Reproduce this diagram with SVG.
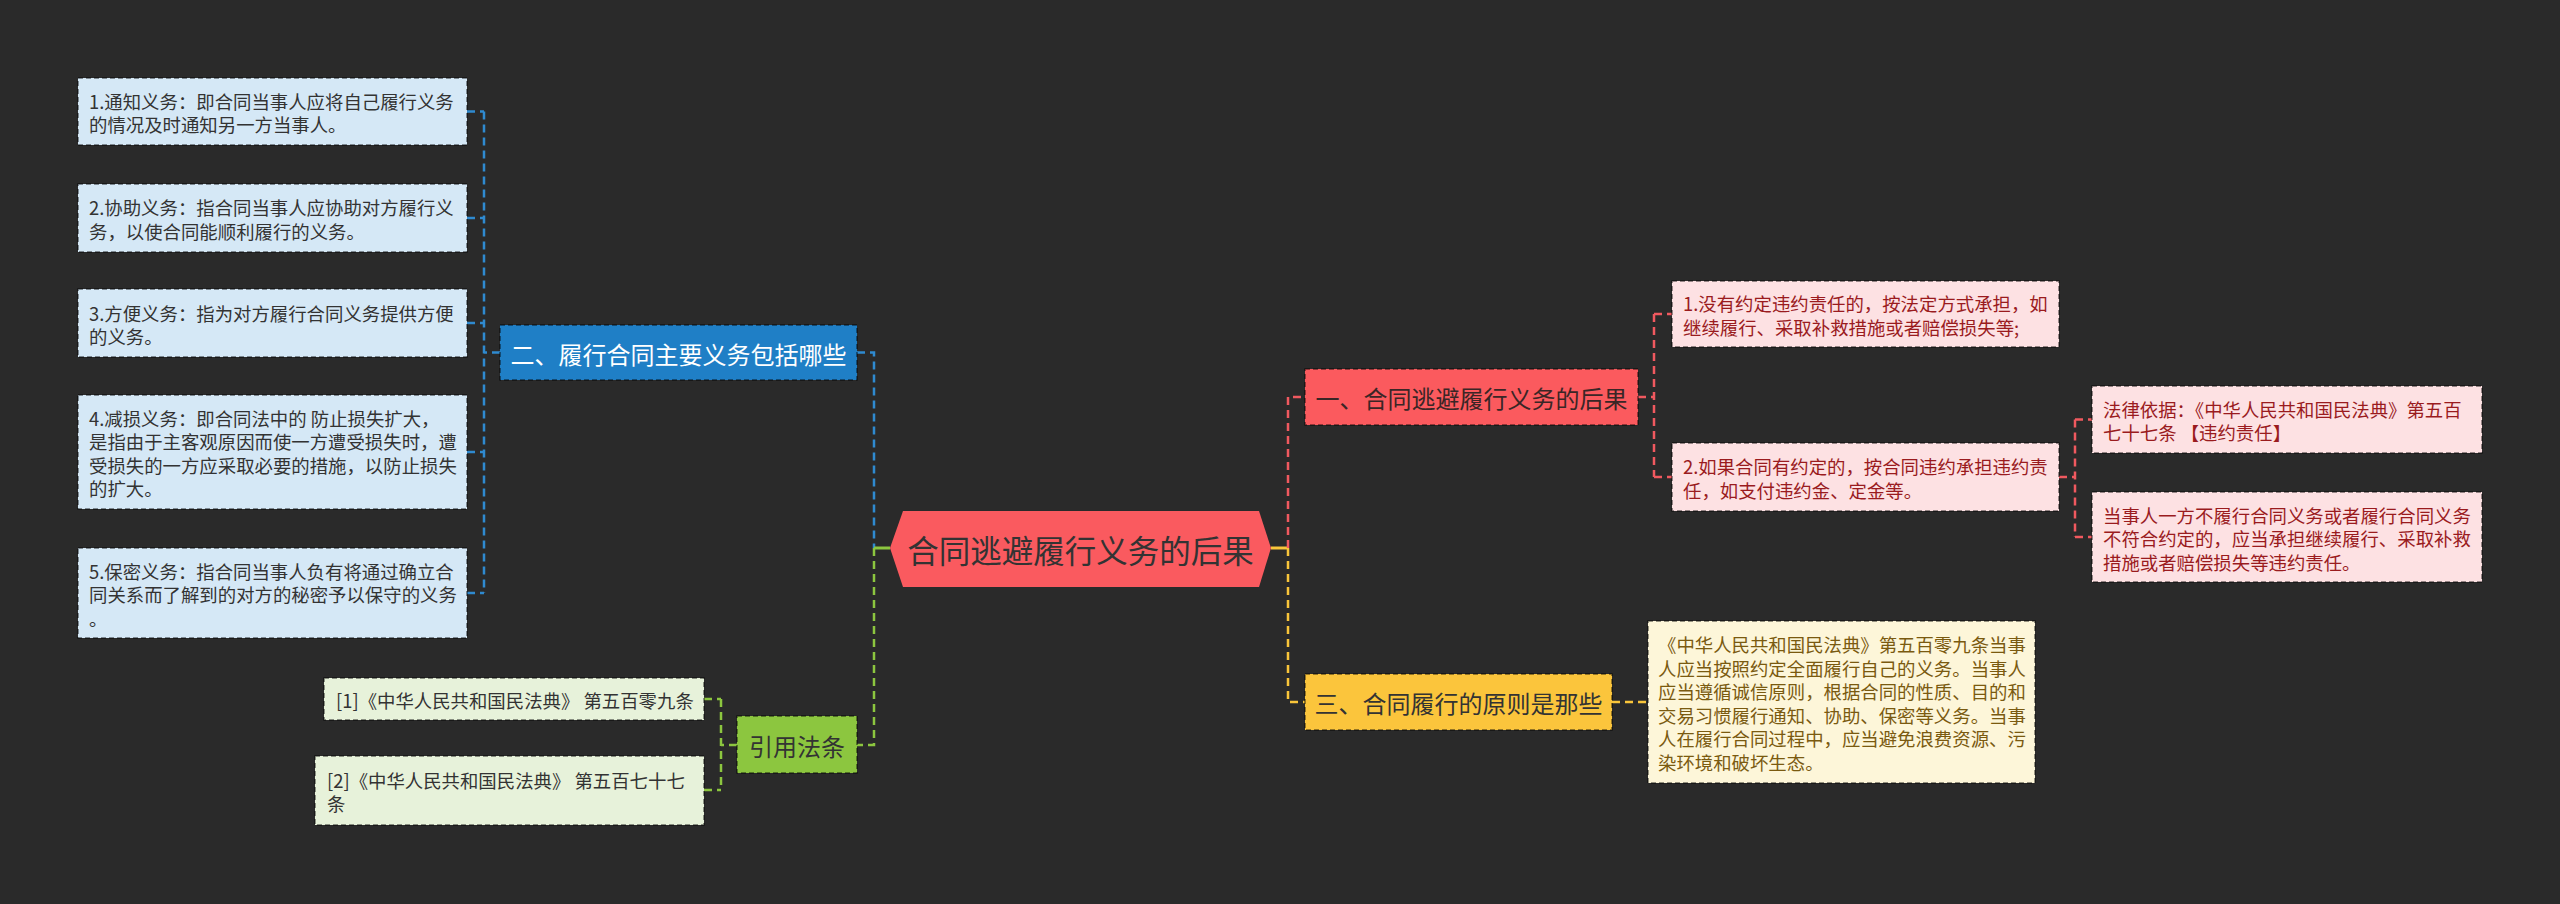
<svg xmlns="http://www.w3.org/2000/svg" width="2560" height="904" viewBox="0 0 2560 904">
<style>
text{font-family:"Noto Sans CJK SC","Microsoft YaHei",sans-serif;dominant-baseline:central}
.s{font-size:18.4px}
.m{font-size:24px;text-anchor:middle}
.bd{stroke:rgba(0,0,0,0.55);stroke-width:1.5;stroke-dasharray:5 3}
.c{fill:none;stroke-width:2.5;stroke-dasharray:8 5}
.cs{fill:none;stroke-width:3}
.bl{stroke:#2f8ad0}.gr{stroke:#8cc63f}.rd{stroke:#f0595f}.yl{stroke:#f9c53a}
.fb{fill:#d5e8f6}.fg{fill:#e7f2da}.fr{fill:#fde1e3}.fy{fill:#fdf6d9}
.tb{fill:#333}.tr{fill:#9a1b1e}.ty{fill:#7a5a10}
</style>
<rect width="2560" height="904" fill="#2a2a2a"/>
<g id="connectors">
<path class="c bl" d="M857,352.5H874V548"/>
<path class="c bl" d="M500,352.5H484M484,111.5V593M467,111.5H484M467,218H484M467,323H484M467,452H484M467,593H484"/>
<path class="c gr" d="M874,548V745H857"/>
<path class="cs gr" d="M874,548H890"/>
<path class="c gr" d="M737,745H721M721,699V790M704,699H721M704,790H721"/>
<path class="cs yl" d="M1271,548H1288"/>
<path class="c rd" d="M1288,548V397H1305"/>
<path class="c yl" d="M1288,548V702H1305"/>
<path class="c rd" d="M1638,397H1654M1654,314V477M1654,314H1672M1654,477H1672"/>
<path class="c rd" d="M2059,477H2075M2075,419.5V537M2075,419.5H2092M2075,537H2092"/>
<path class="c yl" d="M1612,702H1648"/>
</g>
<g id="root">
<polygon points="890,548 903,511 1259,511 1271,548 1259,587 903,587" fill="#fa5a5f"/>
<text x="1080.5" y="549" style="font-size:31.5px;text-anchor:middle" fill="#333">合同逃避履行义务的后果</text>
</g>
<g id="n2">
<rect class="bd" x="500" y="325" width="357" height="55" fill="#1f7fc6"/>
<text class="m" x="678.5" y="353" fill="#fff">二、履行合同主要义务包括哪些</text>
</g>
<g id="b1"><rect class="bd fb" x="78" y="78" width="389" height="67"/>
<text class="s tb" x="89"><tspan x="89" y="100.5">1.通知义务：即合同当事人应将自己履行义务</tspan><tspan x="89" y="124">的情况及时通知另一方当事人。</tspan></text></g>
<g id="b2"><rect class="bd fb" x="78" y="184" width="389" height="68"/>
<text class="s tb"><tspan x="89" y="207">2.协助义务：指合同当事人应协助对方履行义</tspan><tspan x="89" y="230.5">务，以使合同能顺利履行的义务。</tspan></text></g>
<g id="b3"><rect class="bd fb" x="78" y="289" width="389" height="68"/>
<text class="s tb"><tspan x="89" y="312.5">3.方便义务：指为对方履行合同义务提供方便</tspan><tspan x="89" y="336">的义务。</tspan></text></g>
<g id="b4"><rect class="bd fb" x="78" y="395" width="389" height="114"/>
<text class="s tb"><tspan x="89" y="417.5">4.减损义务：即合同法中的 防止损失扩大，</tspan><tspan x="89" y="441">是指由于主客观原因而使一方遭受损失时，遭</tspan><tspan x="89" y="464.5">受损失的一方应采取必要的措施，以防止损失</tspan><tspan x="89" y="488">的扩大。</tspan></text></g>
<g id="b5"><rect class="bd fb" x="78" y="548" width="389" height="90"/>
<text class="s tb"><tspan x="89" y="570.5">5.保密义务：指合同当事人负有将通过确立合</tspan><tspan x="89" y="594">同关系而了解到的对方的秘密予以保守的义务</tspan><tspan x="89" y="617.5">。</tspan></text></g>
<g id="law">
<rect class="bd" x="737" y="716" width="120" height="57" fill="#8cc63f"/>
<text class="m" x="797" y="745" fill="#333">引用法条</text>
</g>
<g id="law1"><rect class="bd fg" x="324" y="678" width="380" height="42"/>
<text class="s tb" x="336" y="699.5">[1]《中华人民共和国民法典》 第五百零九条</text></g>
<g id="law2"><rect class="bd fg" x="315" y="756" width="389" height="69"/>
<text class="s tb"><tspan x="327" y="779.5">[2]《中华人民共和国民法典》 第五百七十七</tspan><tspan x="327" y="803">条</tspan></text></g>
<g id="n1">
<rect class="bd" x="1305" y="369" width="333" height="56" fill="#fb5a5e"/>
<text class="m" x="1471.5" y="397.5" fill="#3a2626">一、合同逃避履行义务的后果</text>
</g>
<g id="r1"><rect class="bd fr" x="1672" y="281" width="387" height="66"/>
<text class="s tr"><tspan x="1683" y="303">1.没有约定违约责任的，按法定方式承担，如</tspan><tspan x="1683" y="326.5">继续履行、采取补救措施或者赔偿损失等;</tspan></text></g>
<g id="r2"><rect class="bd fr" x="1672" y="443" width="387" height="68"/>
<text class="s tr"><tspan x="1683" y="466">2.如果合同有约定的，按合同违约承担违约责</tspan><tspan x="1683" y="489.5">任，如支付违约金、定金等。</tspan></text></g>
<g id="r3"><rect class="bd fr" x="2092" y="386" width="390" height="67"/>
<text class="s tr"><tspan x="2103" y="408.5">法律依据：《中华人民共和国民法典》第五百</tspan><tspan x="2103" y="432">七十七条 【违约责任】</tspan></text></g>
<g id="r4"><rect class="bd fr" x="2092" y="492" width="390" height="90"/>
<text class="s tr"><tspan x="2103" y="514.5">当事人一方不履行合同义务或者履行合同义务</tspan><tspan x="2103" y="538">不符合约定的，应当承担继续履行、采取补救</tspan><tspan x="2103" y="561.5">措施或者赔偿损失等违约责任。</tspan></text></g>
<g id="n3">
<rect class="bd" x="1305" y="674" width="307" height="56" fill="#fbc53c"/>
<text class="m" x="1458.5" y="702.5" fill="#333">三、合同履行的原则是那些</text>
</g>
<g id="y1"><rect class="bd fy" x="1648" y="621" width="387" height="162"/>
<text class="s ty"><tspan x="1658" y="644">《中华人民共和国民法典》第五百零九条当事</tspan><tspan x="1658" y="667.5">人应当按照约定全面履行自己的义务。当事人</tspan><tspan x="1658" y="691">应当遵循诚信原则，根据合同的性质、目的和</tspan><tspan x="1658" y="714.5">交易习惯履行通知、协助、保密等义务。当事</tspan><tspan x="1658" y="738">人在履行合同过程中，应当避免浪费资源、污</tspan><tspan x="1658" y="761.5">染环境和破坏生态。</tspan></text></g>
</svg>
